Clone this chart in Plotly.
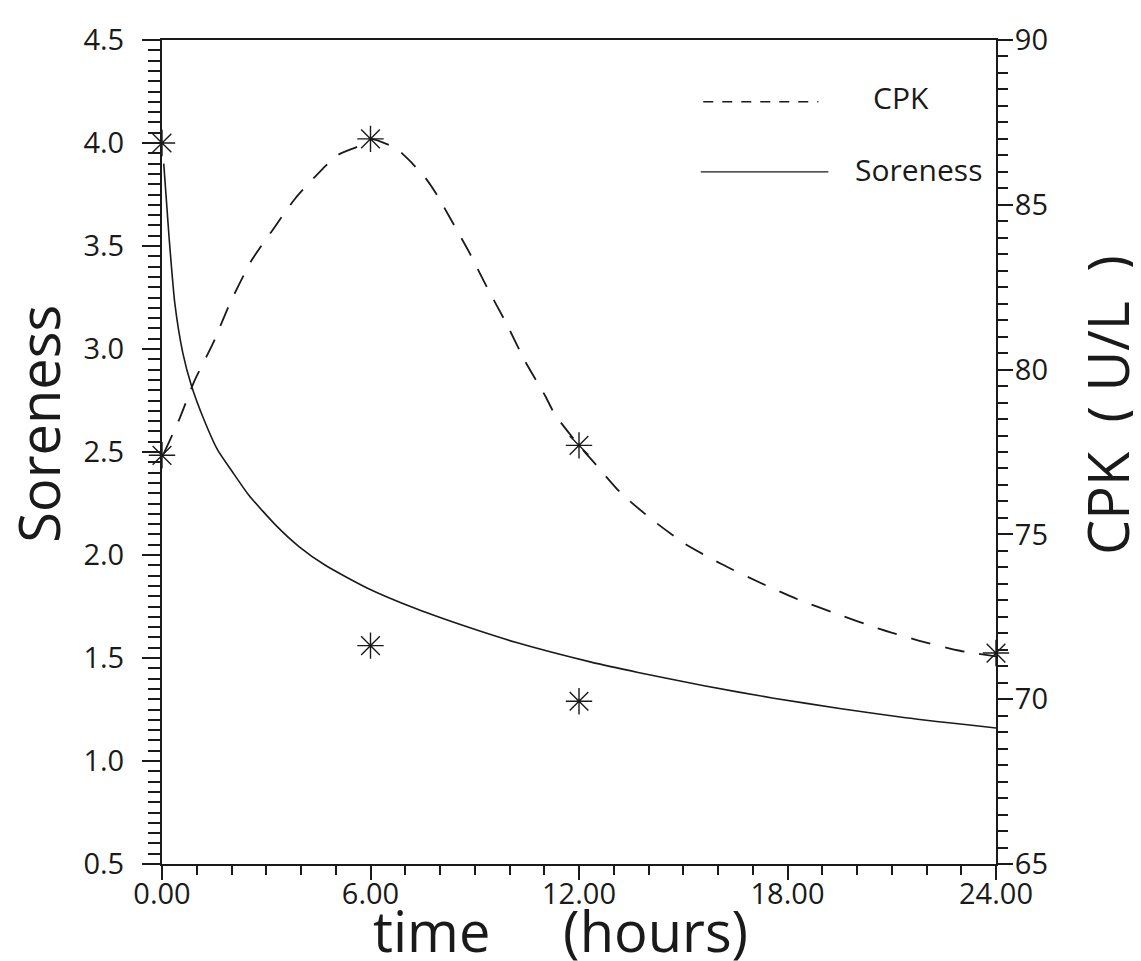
import plotly.graph_objects as go

# soreness fit curve (left axis)
sore_t = [0.05, 0.2, 0.37, 0.6, 0.85, 1.2, 1.6, 2.0, 2.5, 3.3, 3.95, 4.7, 5.9,
          7.3, 8.8, 10.2, 12.35, 13.7, 15.6, 17.6, 19.5, 21.4, 24.0]
sore_v = [3.90, 3.55, 3.22, 2.98, 2.82, 2.66, 2.51, 2.41, 2.29, 2.14, 2.04, 1.95, 1.84,
          1.74, 1.65, 1.575, 1.48, 1.43, 1.365, 1.305, 1.255, 1.21, 1.16]

# CPK fit curve (right axis)
cpk_t = [0.05, 0.5, 0.93, 1.47, 1.95, 2.57, 3.16, 3.84, 4.63, 5.04, 5.7, 6.0, 6.75, 7.2,
         7.59, 7.93, 8.29, 8.82, 9.35, 9.91, 10.45, 11.03, 11.3, 12.0, 12.45, 13.2,
         14.1, 15.07, 16.1, 17.2, 18.27, 19.44, 20.6, 21.77, 22.96, 24.0]
cpk_v = [77.45, 78.5, 79.65, 80.8, 82.0, 83.3, 84.2, 85.2, 86.1, 86.5, 86.8, 87.0, 86.7, 86.26,
         85.8, 85.27, 84.6, 83.6, 82.5, 81.4, 80.25, 79.2, 78.65, 77.7, 77.16, 76.26,
         75.45, 74.7, 74.1, 73.54, 73.04, 72.58, 72.15, 71.78, 71.47, 71.3]

# measured points
sore_pt_t = [0, 6, 12]
sore_pt_v = [4.0, 1.56, 1.29]
cpk_pt_t = [0, 6, 12, 24]
cpk_pt_v = [77.4, 87.0, 77.7, 71.4]

INK = "#1a1a1a"
FONT = "Open Sans"

fig = go.Figure()

fig.add_trace(go.Scatter(x=sore_t, y=sore_v, mode="lines",
                         line=dict(color=INK, width=1.6, shape="spline", smoothing=0.6),
                         yaxis="y"))
fig.add_trace(go.Scatter(x=cpk_t, y=cpk_v, mode="lines",
                         line=dict(color=INK, width=1.8, dash="20px,15px", shape="spline",
                                   smoothing=0.6),
                         yaxis="y2"))
star = dict(symbol="asterisk-open", size=22, color=INK, line=dict(color=INK, width=1.4))
fig.add_trace(go.Scatter(x=sore_pt_t, y=sore_pt_v, mode="markers", cliponaxis=False,
                         marker=star, yaxis="y"))
fig.add_trace(go.Scatter(x=cpk_pt_t, y=cpk_pt_v, mode="markers", cliponaxis=False,
                         marker=star, yaxis="y2"))

tick_font = dict(family=FONT, size=29, color=INK)
title_font = dict(family=FONT, size=56, color=INK)
leg_font = dict(family=FONT, size=30, color=INK)

fig.update_layout(
    width=1141, height=961,
    margin=dict(l=154, r=153, t=32, b=105),
    paper_bgcolor="white", plot_bgcolor="white",
    showlegend=False,
    xaxis=dict(range=[0, 24], tickvals=[0, 6, 12, 18, 24], tickformat=".2f",
               showgrid=False, zeroline=False, showline=True, linecolor=INK,
               linewidth=2, mirror=True, ticks="outside", ticklen=14, tickwidth=1.5,
               tickcolor=INK, tickfont=tick_font, ticklabelstandoff=-11,
               minor=dict(dtick=1, ticks="outside", ticklen=9, tickwidth=1.5,
                          tickcolor=INK)),
    yaxis=dict(range=[0.5, 4.5], dtick=0.5, tickformat=".1f", showgrid=False,
               zeroline=False, showline=True, linecolor=INK, linewidth=2,
               ticks="outside", ticklen=18, tickwidth=1.5, tickcolor=INK,
               tickfont=tick_font, ticklabelstandoff=12,
               minor=dict(dtick=0.05, ticks="outside", ticklen=12, tickwidth=1.5,
                          tickcolor=INK)),
    yaxis2=dict(range=[65, 90], dtick=5, overlaying="y", side="right",
                showgrid=False, zeroline=False, showline=True, linecolor=INK,
                linewidth=2, ticks="outside", ticklen=15, tickwidth=1.5,
                tickcolor=INK, tickfont=tick_font, ticklabelstandoff=-4,
                minor=dict(dtick=0.5, ticks="outside", ticklen=10, tickwidth=1.5,
                           tickcolor=INK)),
)

# axis titles
fig.add_annotation(text="Soreness", xref="paper", yref="paper", x=-0.149, y=0.534,
                   xanchor="center", yanchor="middle",
                   textangle=-90, showarrow=False, font=title_font)
fig.add_annotation(text="time" + "\u00a0" * 5 + "(hours)", xref="paper", yref="paper",
                   x=0.478, y=-0.080, xanchor="center", yanchor="middle",
                   showarrow=False, font=title_font)
fig.add_annotation(text="CPK\u00a0\u00a0(\u00a0U/L\u00a0\u00a0)", xref="paper", yref="paper",
                   x=1.133, y=0.557, xanchor="center", yanchor="middle",
                   textangle=-90, showarrow=False, font=title_font)

# hand-drawn legend in the upper right corner
fig.add_shape(type="line", xref="paper", yref="paper", x0=0.649, x1=0.787, y0=0.925, y1=0.925,
              line=dict(color=INK, width=1.6, dash="10px,9px"))
fig.add_annotation(text="CPK", xref="paper", yref="paper", x=0.850, y=0.930,
                   xanchor="left", yanchor="middle", showarrow=False, font=leg_font)
fig.add_shape(type="line", xref="paper", yref="paper", x0=0.646, x1=0.799, y0=0.840, y1=0.840,
              line=dict(color=INK, width=1.4))
fig.add_annotation(text="Soreness", xref="paper", yref="paper", x=0.829, y=0.843,
                   xanchor="left", yanchor="middle", showarrow=False, font=leg_font)

fig.write_html("out.html")
